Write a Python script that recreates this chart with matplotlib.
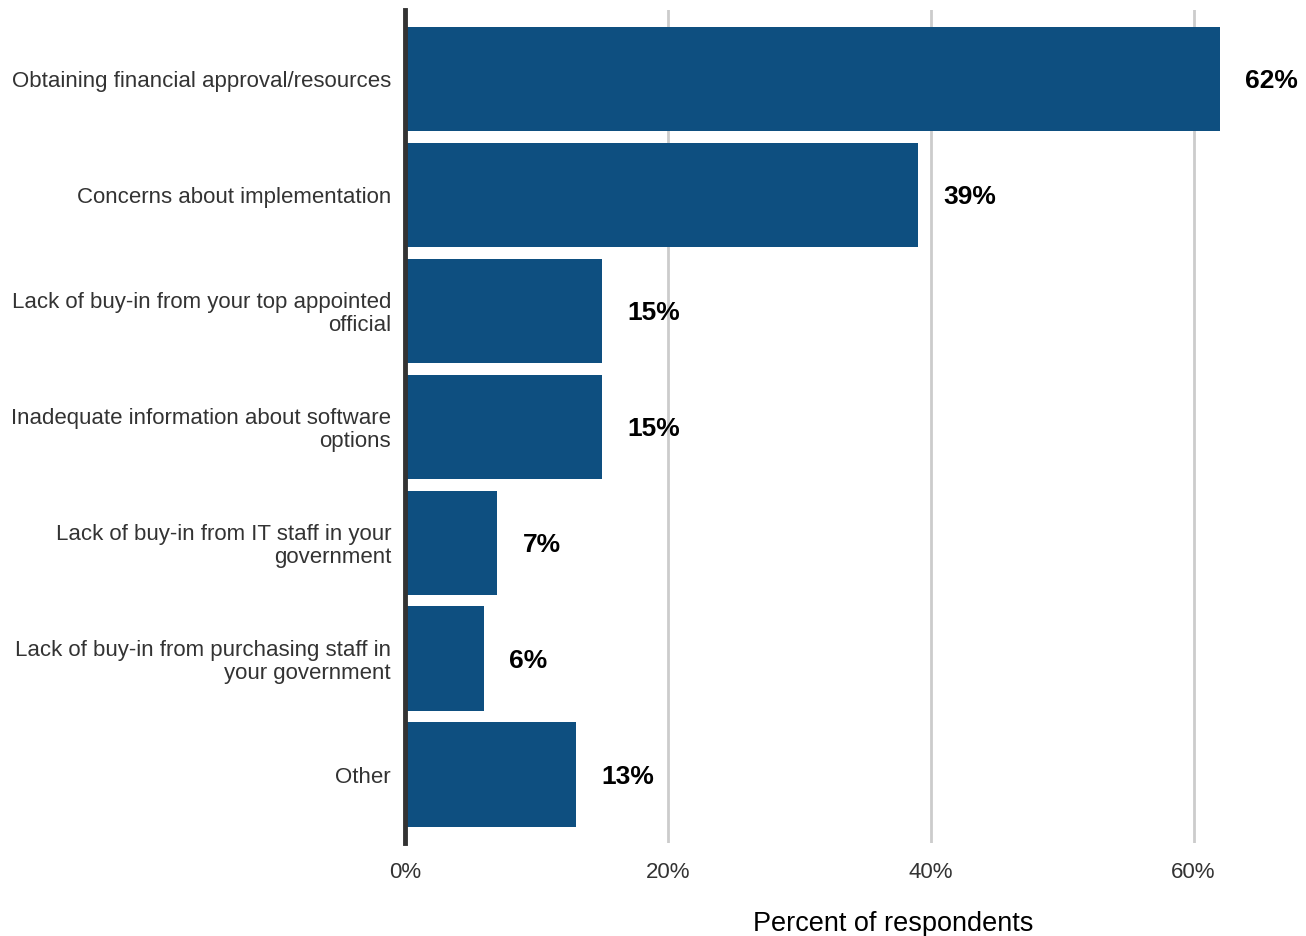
import matplotlib
matplotlib.use("Agg")
import matplotlib.pyplot as plt
from matplotlib.ticker import PercentFormatter

plt.rcParams["font.family"] = ["Liberation Sans", "DejaVu Sans"]

categories = [
    "Obtaining financial approval/resources",
    "Concerns about implementation",
    "Lack of buy-in from your top appointed\nofficial",
    "Inadequate information about software\noptions",
    "Lack of buy-in from IT staff in your\ngovernment",
    "Lack of buy-in from purchasing staff in\nyour government",
    "Other",
]
percent = [62, 39, 15, 15, 7, 6, 13]
xticks = [0, 20, 40, 60]

BAR = "#0e4f80"
INK = "#333333"

fig = plt.figure(figsize=(13.06, 9.36), dpi=100)
ax = fig.add_axes([405 / 1306, 93 / 936, 895 / 1306, 833 / 936])

pos = range(len(categories))
ax.barh(pos, percent, height=0.9, color=BAR, zorder=2)
for y, v in zip(pos, percent):
    ax.text(v + 1.95, y, f"{v}%", va="center_baseline", ha="left",
            fontsize=19, fontweight="bold", color="black")

ax.set_xlim(0, 68.1)
ax.set_ylim(len(categories) - 0.41, -0.595)
ax.set_yticks(list(pos))
ax.set_yticklabels(categories, fontsize=16, color=INK, linespacing=1.1)
ax.set_xticks(xticks)
ax.xaxis.set_major_formatter(PercentFormatter(decimals=0))
ax.tick_params(axis="x", labelsize=16, colors=INK, length=0, pad=14)
ax.tick_params(axis="y", length=0, pad=10)

for t in xticks[1:]:
    ax.axvline(t, color="#cccccc", lw=2, zorder=1)
for s in ["top", "right", "bottom"]:
    ax.spines[s].set_visible(False)
ax.spines["left"].set_color(INK)
ax.spines["left"].set_linewidth(3.5)
ax.spines["left"].set_zorder(3)

ax.set_xlabel("Percent of respondents", fontsize=19.5, color="black")
ax.xaxis.set_label_coords(0.545, -0.082)

fig.savefig("out.png", dpi=100)
